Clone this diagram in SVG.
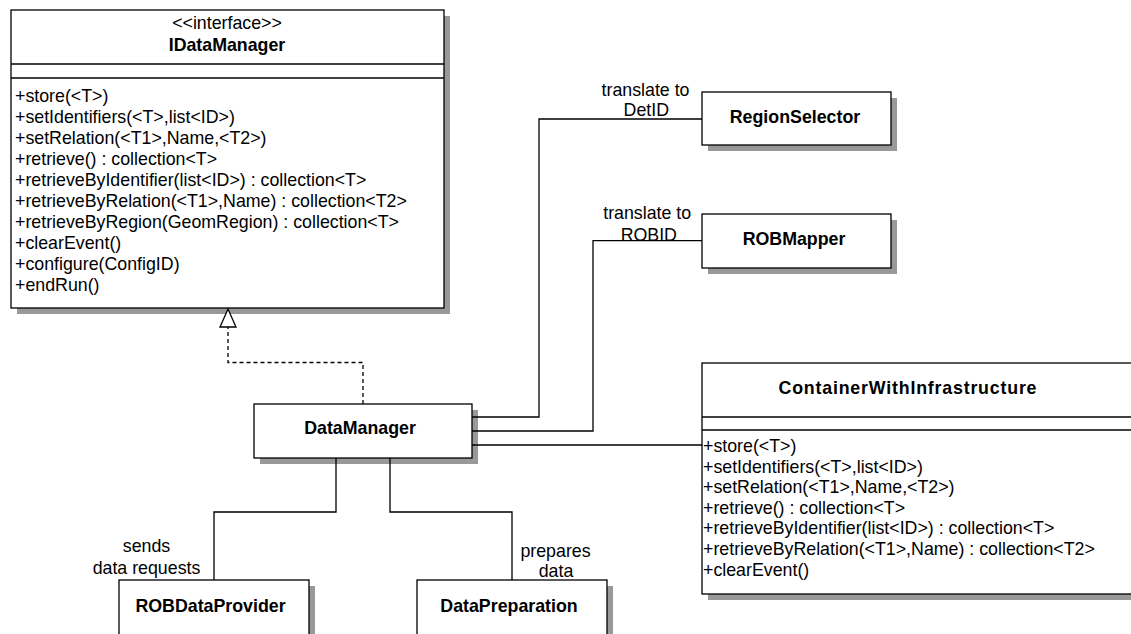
<svg xmlns="http://www.w3.org/2000/svg" width="1131" height="634" viewBox="0 0 1131 634">
<style>
.bg{fill:#fff}
.box{fill:#fff;stroke:#000;stroke-width:1.3}
.sh{fill:#999}
.sep{stroke:#000;stroke-width:1.3}
.t{font-family:"Liberation Sans",Arial,sans-serif;font-size:17.8px;fill:#000}
.b{font-weight:bold}
.m{text-anchor:middle}
.conn{fill:none;stroke:#000;stroke-width:1.3}
.dash{stroke-dasharray:4,3}
</style>
<defs>
<marker id="tri" viewBox="0 0 18 16" refX="18" refY="8" markerWidth="18" markerHeight="16" markerUnits="userSpaceOnUse" orient="auto" overflow="visible">
<path d="M0,0 L18,8 L0,16 Z" fill="#fff" stroke="#000" stroke-width="1.3" stroke-dasharray="none"/>
</marker>
</defs>
<rect class="bg" x="0" y="0" width="1131" height="634"/>

<g id="IDataManager">
<rect class="sh" x="17" y="16" width="433" height="298"/>
<rect class="box" x="11" y="10" width="433" height="298"/>
<line class="sep" x1="11" y1="64" x2="444" y2="64"/>
<line class="sep" x1="11" y1="78" x2="444" y2="78"/>
<text class="t m" x="227" y="29">&lt;&lt;interface&gt;&gt;</text>
<text class="t b m" x="227" y="51">IDataManager</text>
<text class="t" x="15" y="102">+store(&lt;T&gt;)</text>
<text class="t" x="15" y="123">+setIdentifiers(&lt;T&gt;,list&lt;ID&gt;)</text>
<text class="t" x="15" y="144">+setRelation(&lt;T1&gt;,Name,&lt;T2&gt;)</text>
<text class="t" x="15" y="165">+retrieve() : collection&lt;T&gt;</text>
<text class="t" x="15" y="186">+retrieveByIdentifier(list&lt;ID&gt;) : collection&lt;T&gt;</text>
<text class="t" x="15" y="207">+retrieveByRelation(&lt;T1&gt;,Name) : collection&lt;T2&gt;</text>
<text class="t" x="15" y="228">+retrieveByRegion(GeomRegion) : collection&lt;T&gt;</text>
<text class="t" x="15" y="249">+clearEvent()</text>
<text class="t" x="15" y="270">+configure(ConfigID)</text>
<text class="t" x="15" y="291">+endRun()</text>
</g>

<g id="RegionSelector">
<rect class="sh" x="708" y="98" width="189" height="53"/>
<rect class="box" x="702" y="92" width="189" height="53"/>
<text class="t b m" x="795" y="123">RegionSelector</text>
</g>

<g id="ROBMapper">
<rect class="sh" x="708" y="220" width="189" height="54"/>
<rect class="box" x="702" y="214" width="189" height="54"/>
<text class="t b m" x="794" y="245">ROBMapper</text>
</g>

<g id="DataManager">
<rect class="sh" x="260" y="410" width="218" height="54"/>
<rect class="box" x="254" y="404" width="218" height="54"/>
<text class="t b m" x="360" y="434">DataManager</text>
</g>

<g id="ContainerWithInfrastructure">
<rect class="sh" x="708" y="369" width="440" height="231"/>
<rect class="box" x="702" y="363" width="440" height="231"/>
<line class="sep" x1="702" y1="417" x2="1142" y2="417"/>
<line class="sep" x1="702" y1="430" x2="1142" y2="430"/>
<text class="t b m" x="907.5" y="393.5" textLength="258" lengthAdjust="spacing">ContainerWithInfrastructure</text>
<text class="t" x="703" y="452">+store(&lt;T&gt;)</text>
<text class="t" x="703" y="472.6">+setIdentifiers(&lt;T&gt;,list&lt;ID&gt;)</text>
<text class="t" x="703" y="493.2">+setRelation(&lt;T1&gt;,Name,&lt;T2&gt;)</text>
<text class="t" x="703" y="513.8">+retrieve() : collection&lt;T&gt;</text>
<text class="t" x="703" y="534.4">+retrieveByIdentifier(list&lt;ID&gt;) : collection&lt;T&gt;</text>
<text class="t" x="703" y="555">+retrieveByRelation(&lt;T1&gt;,Name) : collection&lt;T2&gt;</text>
<text class="t" x="703" y="575.6">+clearEvent()</text>
</g>

<g id="ROBDataProvider">
<rect class="sh" x="125" y="586" width="190" height="80"/>
<rect class="box" x="119" y="580" width="190" height="80"/>
<text class="t b m" x="210.5" y="612">ROBDataProvider</text>
</g>

<g id="DataPreparation">
<rect class="sh" x="423" y="586" width="190" height="80"/>
<rect class="box" x="417" y="580" width="190" height="80"/>
<text class="t b m" x="509" y="611.5">DataPreparation</text>
</g>

<g id="connectors">
<path class="conn" d="M472,417 H539 V119 H702"/>
<path class="conn" d="M472,431 H593 V240.7 H702"/>
<path class="conn" d="M472,445 H702"/>
<path class="conn" d="M336,458 V512 H214 V580"/>
<path class="conn" d="M390,458 V512 H512 V580"/>
<path class="conn dash" d="M363,404 V362.5 H228 V309" marker-end="url(#tri)"/>
<text class="t m" x="645.5" y="96">translate to</text>
<text class="t m" x="646.3" y="116">DetID</text>
<text class="t m" x="647.2" y="218.5">translate to</text>
<text class="t m" x="648.8" y="240.5">ROBID</text>
<text class="t m" x="146.5" y="552">sends</text>
<text class="t m" x="146.5" y="573.5">data requests</text>
<text class="t m" x="555.5" y="557">prepares</text>
<text class="t m" x="556" y="576.5">data</text>
</g>
</svg>
